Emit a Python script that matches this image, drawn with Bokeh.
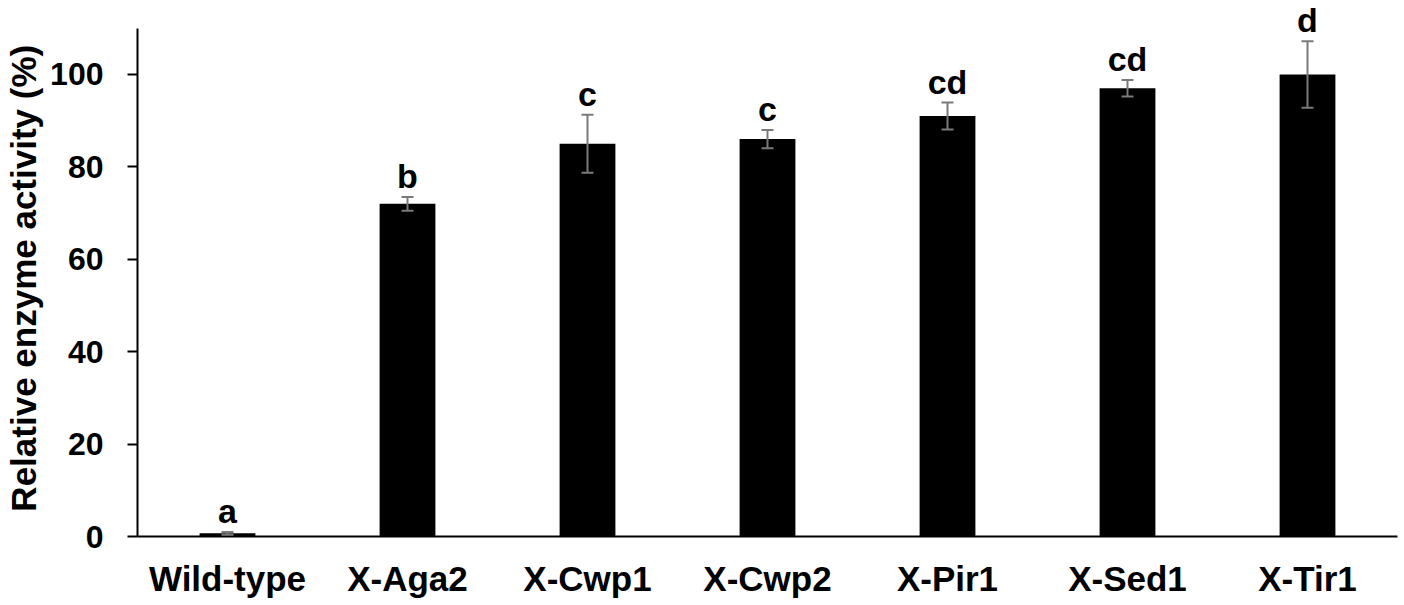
from bokeh.plotting import figure
from bokeh.models import ColumnDataSource, Range1d, FactorRange, Whisker, TeeHead, FixedTicker, LabelSet
from bokeh.core.properties import value
from bokeh.embed import file_html
from bokeh.resources import INLINE

categories = ["Wild-type", "X-Aga2", "X-Cwp1", "X-Cwp2", "X-Pir1", "X-Sed1", "X-Tir1"]
activity = [0.7, 72.0, 85.0, 86.0, 91.0, 97.0, 100.0]
errors = [0.3, 1.5, 6.3, 2.0, 2.9, 1.8, 7.2]
letters = ["a", "b", "c", "c", "cd", "cd", "d"]
y_ticks = [0, 20, 40, 60, 80, 100]

upper = [a + e for a, e in zip(activity, errors)]
lower = [a - e for a, e in zip(activity, errors)]

src = ColumnDataSource(dict(cat=categories, val=activity, upper=upper, lower=lower, letter=letters))

FONT = "Liberation Sans"

p = figure(
    x_range=FactorRange(factors=categories, range_padding=0),
    y_range=Range1d(0, 116),
    width=1404, height=600,
    output_backend="svg", toolbar_location=None,
    min_border_left=137, min_border_right=7, min_border_top=0, min_border_bottom=63,
)
p.outline_line_color = None
p.xgrid.grid_line_color = None
p.ygrid.grid_line_color = None
p.background_fill_color = "white"
p.border_fill_color = "white"

p.vbar(x="cat", top="val", width=0.31, source=src, fill_color="black", line_color=None)

w = Whisker(base="cat", upper="upper", lower="lower", source=src,
            line_color="#7a7a7a", line_width=2, level="annotation",
            upper_head=TeeHead(size=12, line_color="#7a7a7a", line_width=2),
            lower_head=TeeHead(size=12, line_color="#7a7a7a", line_width=2))
p.add_layout(w)

labels = LabelSet(x="cat", y="upper", text="letter", source=src, text_align="center",
                  text_baseline="alphabetic", y_offset=9, text_font=value(FONT),
                  text_font_style="bold", text_font_size="34px", text_color="black",
                  level="annotation")
p.add_layout(labels)

# y axis
p.yaxis.ticker = FixedTicker(ticks=y_ticks)
p.yaxis.bounds = (0, 110)
p.yaxis.axis_label = "Relative enzyme activity (%)\u00a0\u00a0"
p.yaxis.axis_label_text_font = FONT
p.yaxis.axis_label_text_font_style = "bold"
p.yaxis.axis_label_text_font_size = "35px"
p.yaxis.axis_label_text_color = "black"
p.yaxis.axis_label_standoff = 4
p.yaxis.major_label_text_font = FONT
p.yaxis.major_label_text_font_style = "bold"
p.yaxis.major_label_text_font_size = "32px"
p.yaxis.major_label_text_color = "black"
p.yaxis.major_label_standoff = 24
p.yaxis.major_tick_out = 10
p.yaxis.major_tick_in = 0
p.yaxis.major_tick_line_width = 2
p.yaxis.major_tick_line_color = "black"
p.yaxis.minor_tick_line_color = None
p.yaxis.axis_line_width = 2
p.yaxis.axis_line_color = "black"

# x axis
p.xaxis.major_label_text_font = FONT
p.xaxis.major_label_text_font_style = "bold"
p.xaxis.major_label_text_font_size = "35px"
p.xaxis.major_label_text_color = "black"
p.xaxis.major_label_standoff = 16
p.xaxis.major_tick_line_color = None
p.xaxis.minor_tick_line_color = None
p.xaxis.axis_line_width = 2
p.xaxis.axis_line_color = "black"

open("out.html", "w").write(file_html(p, INLINE))
